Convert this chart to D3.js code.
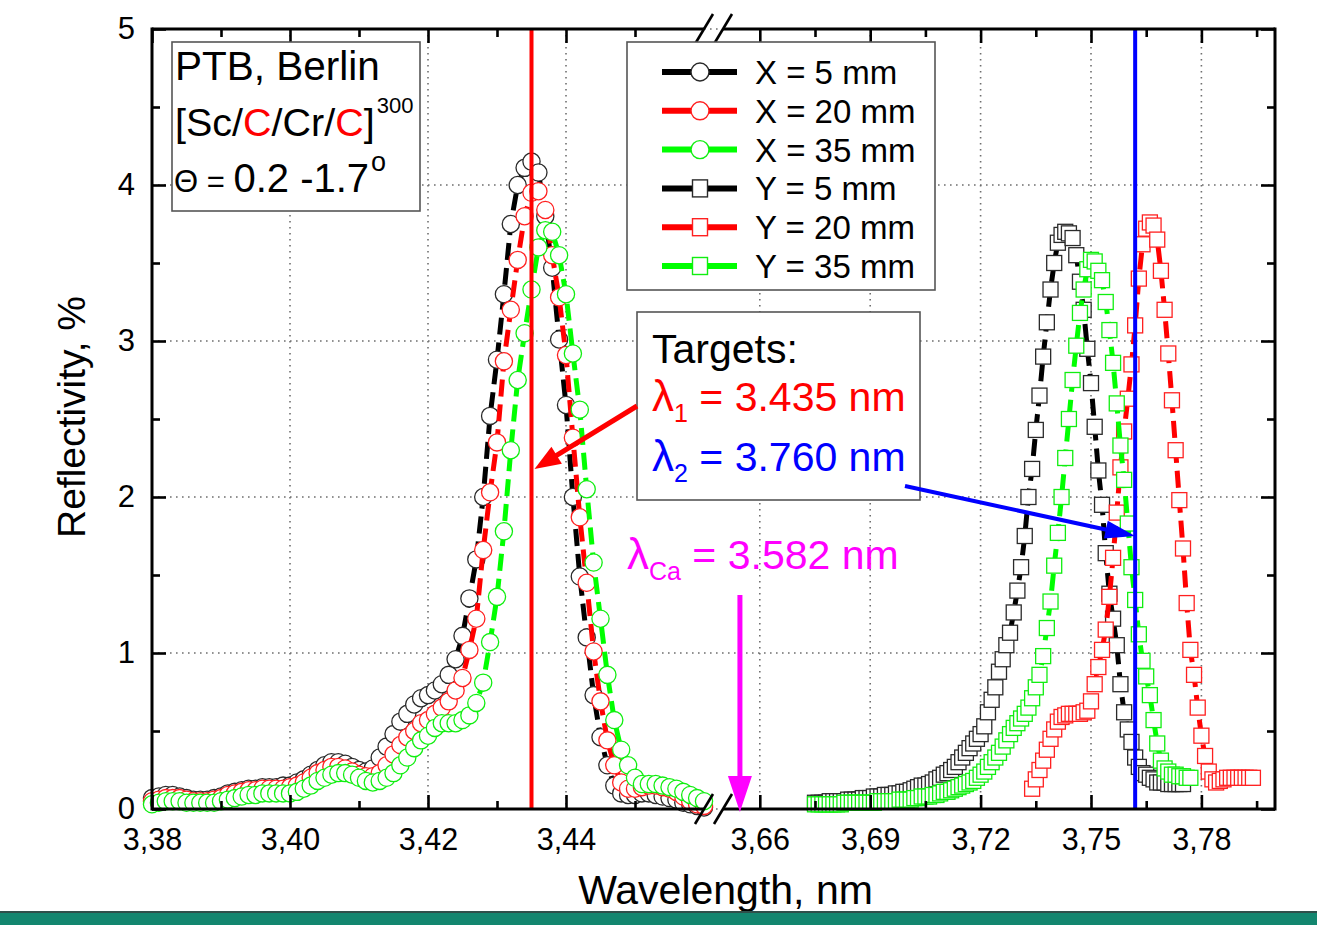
<!DOCTYPE html>
<html><head><meta charset="utf-8">
<script src="https://cdn.jsdelivr.net/npm/d3@7"></script>
<style>
html,body{margin:0;padding:0;background:#fff;}
svg{display:block;}
</style></head><body>
<svg id="chart" width="1317" height="925"></svg>
<script>
// ---------------- DATA ----------------
// X-scan (circles), wavelength grid start / step in nm
const wlStartX = 3.380, wlStep = 0.001;
const reflX5 = [
0.07,0.08,0.09,0.09,0.08,0.07,0.06,0.06,0.06,0.07,
0.08,0.10,0.11,0.12,0.13,0.13,0.14,0.14,0.14,0.15,
0.15,0.17,0.19,0.22,0.25,0.28,0.30,0.30,0.29,0.27,
0.25,0.24,0.26,0.33,0.40,0.48,0.56,0.61,0.67,0.71,
0.73,0.76,0.80,0.86,0.96,1.11,1.35,1.60,2.00,2.52,
2.88,3.30,3.75,4.00,4.11,4.15,4.08,3.80,3.47,3.01,
2.59,2.00,1.49,1.10,0.73,0.46,0.28,0.15,0.10,0.09,
0.09,0.10,0.10,0.09,0.08,0.07,0.06,0.04,0.03,0.02,0.01];
const reflX20 = [
0.05,0.06,0.07,0.07,0.07,0.06,0.05,0.05,0.05,0.06,
0.07,0.09,0.10,0.11,0.12,0.12,0.13,0.13,0.13,0.13,
0.14,0.15,0.17,0.20,0.23,0.25,0.27,0.27,0.26,0.24,
0.22,0.21,0.21,0.23,0.28,0.35,0.41,0.46,0.50,0.55,
0.57,0.61,0.65,0.69,0.76,0.84,1.02,1.22,1.66,2.03,
2.35,2.87,3.20,3.52,3.80,3.95,3.96,3.84,3.55,3.28,
2.91,2.38,1.87,1.45,1.01,0.69,0.44,0.28,0.17,0.13,
0.13,0.14,0.15,0.15,0.14,0.13,0.11,0.08,0.05,0.03,0.02];
const reflX35 = [
0.03,0.04,0.05,0.05,0.05,0.04,0.04,0.04,0.04,0.04,
0.05,0.06,0.07,0.08,0.09,0.09,0.10,0.10,0.10,0.10,
0.10,0.11,0.13,0.15,0.18,0.20,0.22,0.23,0.23,0.22,
0.20,0.18,0.17,0.18,0.20,0.23,0.28,0.33,0.39,0.44,
0.47,0.52,0.55,0.55,0.55,0.57,0.60,0.68,0.81,1.07,
1.36,1.78,2.30,2.75,3.05,3.33,3.60,3.71,3.70,3.55,
3.30,2.92,2.56,2.05,1.58,1.22,0.86,0.57,0.38,0.28,
0.20,0.16,0.16,0.16,0.15,0.14,0.13,0.11,0.09,0.07,0.05];

// Y-scan (squares)
const wlStartY5 = 3.675, wlStartY20 = 3.734, wlStartY35 = 3.675;
const reflY5 = [
0.04,0.04,0.04,0.04,0.05,0.05,0.05,0.05,0.05,0.06,
0.06,0.06,0.06,0.07,0.07,0.07,0.08,0.08,0.08,0.09,
0.09,0.09,0.10,0.10,0.11,0.11,0.12,0.13,0.14,0.15,
0.15,0.16,0.17,0.19,0.20,0.22,0.23,0.25,0.27,0.30,
0.33,0.36,0.39,0.42,0.45,0.48,0.53,0.62,0.70,0.78,
0.88,0.96,1.05,1.13,1.26,1.40,1.55,1.75,2.00,2.18,
2.43,2.65,2.90,3.12,3.33,3.50,3.63,3.68,3.70,3.69,
3.66,3.55,3.38,3.20,2.95,2.73,2.45,2.17,1.95,1.64,
1.38,1.22,1.05,0.80,0.62,0.51,0.43,0.33,0.27,0.23,
0.22,0.20,0.19,0.17,0.17,0.17,0.16,0.16,0.16,0.16,0.16];
const reflY20 = [
0.13,0.19,0.25,0.31,0.38,0.45,0.51,0.56,0.59,0.60,
0.61,0.61,0.61,0.61,0.62,0.63,0.69,0.80,0.91,1.02,
1.15,1.36,1.61,1.90,2.19,2.42,2.63,2.85,3.10,3.40,
3.62,3.72,3.76,3.74,3.65,3.45,3.20,2.92,2.62,2.30,
1.98,1.67,1.32,1.02,0.86,0.65,0.47,0.34,0.24,0.19,
0.17,0.18,0.19,0.20,0.20,0.20,0.20,0.20,0.20,0.20,0.20];
const reflY35 = [
0.03,0.03,0.03,0.03,0.03,0.03,0.03,0.03,0.04,0.04,
0.04,0.04,0.04,0.04,0.04,0.04,0.04,0.05,0.05,0.05,
0.05,0.05,0.05,0.06,0.06,0.06,0.06,0.07,0.07,0.08,
0.08,0.08,0.09,0.09,0.10,0.11,0.11,0.12,0.13,0.14,
0.15,0.16,0.17,0.18,0.20,0.22,0.24,0.27,0.30,0.33,
0.36,0.40,0.44,0.48,0.52,0.55,0.58,0.61,0.65,0.71,
0.78,0.86,0.98,1.16,1.33,1.56,1.77,2.00,2.25,2.50,
2.75,2.97,3.18,3.33,3.46,3.52,3.51,3.45,3.39,3.25,
3.07,2.86,2.60,2.33,2.11,1.83,1.55,1.34,1.12,0.95,
0.85,0.73,0.57,0.42,0.31,0.26,0.24,0.22,0.22,0.21,0.21,0.20,0.20];

const seriesLabels = ["X = 5 mm","X = 20 mm","X = 35 mm","Y = 5 mm","Y = 20 mm","Y = 35 mm"];
const seriesColors = ["#000000","#ff0000","#00ff00","#000000","#ff0000","#00ff00"];
const markerStroke = ["#2a2a2a","#ff2020","#10ee10","#2a2a2a","#ff2020","#10ee10"];

const yTicks = [0,1,2,3,4,5];
const yMinor = [0.5,1.5,2.5,3.5,4.5];
const xTicksLeft = [3.38,3.40,3.42,3.44];
const xMinorLeft = [3.39,3.41,3.43,3.45];
const xTicksRight = [3.66,3.69,3.72,3.75,3.78];
const xMinorRight = [3.675,3.705,3.735,3.765,3.795];

const lambda1 = 3.435, lambda2 = 3.760, lambdaCa = 3.582;
const lambda2Drawn = 3.762;   // position where the blue marker line sits in the figure
const lambdaCaDrawn = 3.6546; // arrow placed just right of the axis break

// ---------------- SETUP ----------------
const FONT = '"Liberation Sans", Arial, Helvetica, sans-serif';
const svg = d3.select("#chart").style("font-family", FONT);
svg.append("rect").attr("width",1317).attr("height",925).attr("fill","#fff");

const y = d3.scaleLinear().domain([0,5]).range([809,29]);
const xL = d3.scaleLinear().domain([3.38,3.46]).range([152,704]);
const xR = d3.scaleLinear().domain([3.65,3.80]).range([723,1275]);
const X0 = 152, X1 = 1275, Y0 = 809, Y1 = 29;

// ---------------- GRID ----------------
const grid = svg.append("g").attr("stroke","#6f6f6f").attr("stroke-width",1.6)
  .attr("stroke-dasharray","1.6,4.4").attr("fill","none");
yTicks.forEach(t => grid.append("line").attr("x1",X0).attr("x2",X1).attr("y1",y(t)).attr("y2",y(t)));
xTicksLeft.filter(t=>t>3.38).forEach(t => grid.append("line").attr("x1",xL(t)).attr("x2",xL(t)).attr("y1",Y1).attr("y2",Y0));
xTicksRight.forEach(t => grid.append("line").attr("x1",xR(t)).attr("x2",xR(t)).attr("y1",Y1).attr("y2",Y0));

// ---------------- SERIES ----------------
function mk(values, start) {
  return values.map((v,i)=>({wl: start + i*wlStep, v: v}));
}
const series = [
  {pts: mk(reflX5, wlStartX), sc: xL, shape:"circle"},
  {pts: mk(reflX20, wlStartX), sc: xL, shape:"circle"},
  {pts: mk(reflX35, wlStartX), sc: xL, shape:"circle"},
  {pts: mk(reflY5, wlStartY5), sc: xR, shape:"square"},
  {pts: mk(reflY20, wlStartY20), sc: xR, shape:"square"},
  {pts: mk(reflY35, wlStartY35), sc: xR, shape:"square"}
];
series.forEach((s,k)=>{
  const g = svg.append("g");
  const line = d3.line().x(d=>s.sc(d.wl)).y(d=>y(d.v));
  g.append("path").attr("d",line(s.pts)).attr("fill","none")
    .attr("stroke",seriesColors[k]).attr("stroke-width",5).attr("stroke-dasharray","17,8");
  if (s.shape==="circle") {
    g.selectAll("circle").data(s.pts).join("circle")
      .attr("cx",d=>s.sc(d.wl)).attr("cy",d=>y(d.v)).attr("r",8.6)
      .attr("fill","#fff").attr("stroke",markerStroke[k]).attr("stroke-width",1.3);
  } else {
    g.selectAll("rect").data(s.pts).join("rect")
      .attr("x",d=>s.sc(d.wl)-7.5).attr("y",d=>y(d.v)-7.5).attr("width",15).attr("height",15)
      .attr("fill","#fff").attr("stroke",markerStroke[k]).attr("stroke-width",1.3);
  }
});

// ---------------- TARGET LINES ----------------
svg.append("line").attr("x1",xL(lambda1)).attr("x2",xL(lambda1)).attr("y1",Y1).attr("y2",Y0)
  .attr("stroke","#ff0000").attr("stroke-width",4);
svg.append("line").attr("x1",xR(lambda2Drawn)).attr("x2",xR(lambda2Drawn)).attr("y1",Y1).attr("y2",Y0)
  .attr("stroke","#0000ff").attr("stroke-width",4);

// ---------------- AXES ----------------
function styleAxis(g){ g.select(".domain").remove(); g.selectAll("line").attr("stroke","#000").attr("stroke-width",2.6);
  g.selectAll("text").attr("font-family",FONT).attr("fill","#000"); }
const fmtX = v => d3.format(".2f")(v).replace(".",",");
svg.append("g").attr("transform",`translate(0,${Y0})`)
  .call(d3.axisBottom(xL).tickValues(xTicksLeft).tickSizeInner(-14).tickSizeOuter(0).tickPadding(19).tickFormat(fmtX))
  .call(styleAxis).selectAll("text").attr("font-size",30.5);
svg.append("g").attr("transform",`translate(0,${Y0})`)
  .call(d3.axisBottom(xR).tickValues(xTicksRight).tickSizeInner(-14).tickSizeOuter(0).tickPadding(19).tickFormat(fmtX))
  .call(styleAxis).selectAll("text").attr("font-size",30.5);
svg.append("g").attr("transform",`translate(0,${Y0})`)
  .call(d3.axisBottom(xL).tickValues(xMinorLeft).tickSizeInner(-8).tickSizeOuter(0).tickFormat("")).call(styleAxis);
svg.append("g").attr("transform",`translate(0,${Y0})`)
  .call(d3.axisBottom(xR).tickValues(xMinorRight).tickSizeInner(-8).tickSizeOuter(0).tickFormat("")).call(styleAxis);
[[xL,xTicksLeft,14],[xR,xTicksRight,14],[xL,xMinorLeft,8],[xR,xMinorRight,8]].forEach(([sc,tv,len])=>{
  svg.append("g").attr("transform",`translate(0,${Y1})`)
    .call(d3.axisTop(sc).tickValues(tv).tickSizeInner(-len).tickSizeOuter(0).tickFormat("")).call(styleAxis);
});
svg.append("g").attr("transform",`translate(${X0},0)`)
  .call(d3.axisLeft(y).tickValues(yTicks).tickSizeInner(-14).tickSizeOuter(0).tickPadding(17).tickFormat(d3.format("d")))
  .call(styleAxis).selectAll("text").attr("font-size",31);
svg.append("g").attr("transform",`translate(${X0},0)`)
  .call(d3.axisLeft(y).tickValues(yMinor).tickSizeInner(-8).tickSizeOuter(0).tickFormat("")).call(styleAxis);
svg.append("g").attr("transform",`translate(${X1},0)`)
  .call(d3.axisRight(y).tickValues(yTicks).tickSizeInner(-14).tickSizeOuter(0).tickFormat("")).call(styleAxis);
svg.append("g").attr("transform",`translate(${X1},0)`)
  .call(d3.axisRight(y).tickValues(yMinor).tickSizeInner(-8).tickSizeOuter(0).tickFormat("")).call(styleAxis);

// frame with break
const frame = svg.append("g").attr("stroke","#000").attr("stroke-width",3).attr("fill","none");
const breakL = xL.range()[1], breakR = xR.range()[0];
frame.append("line").attr("x1",X0).attr("x2",X0).attr("y1",Y1-1.5).attr("y2",Y0+1.5);
frame.append("line").attr("x1",X1).attr("x2",X1).attr("y1",Y1-1.5).attr("y2",Y0+1.5);
[Y0,Y1].forEach(yy=>{
  frame.append("line").attr("x1",X0).attr("x2",breakL).attr("y1",yy).attr("y2",yy);
  frame.append("line").attr("x1",breakR).attr("x2",X1).attr("y1",yy).attr("y2",yy);
  [breakL, breakR].forEach(bx=>{
    frame.append("line").attr("x1",bx-9).attr("y1",yy+15).attr("x2",bx+9).attr("y2",yy-15).attr("stroke-width",2.6);
  });
});

// ---------------- AXIS TITLES ----------------
svg.append("text").attr("x",(X0+X1)/2+12).attr("y",904).attr("text-anchor","middle")
  .attr("font-size",41).text("Wavelength, nm");
svg.append("text").attr("transform","translate(85,417) rotate(-90)").attr("text-anchor","middle")
  .attr("font-size",39).text("Reflectivity, %");

// ---------------- INFO BOX ----------------
const boxStroke = "#555";
svg.append("rect").attr("x",172).attr("y",42).attr("width",248).attr("height",169)
  .attr("fill","#fff").attr("stroke",boxStroke).attr("stroke-width",1.6);
svg.append("text").attr("x",175).attr("y",80).attr("font-size",40.5).text("PTB, Berlin");
const t2 = svg.append("text").attr("x",175).attr("y",136).attr("font-size",39.5);
t2.append("tspan").text("[Sc/");
t2.append("tspan").attr("fill","#ff0000").text("C");
t2.append("tspan").text("/Cr/");
t2.append("tspan").attr("fill","#ff0000").text("C");
t2.append("tspan").text("]");
t2.append("tspan").attr("font-size",22).attr("dy",-23).attr("dx",2).text("300");
const t3 = svg.append("text").attr("x",174).attr("y",192).attr("font-size",40);
t3.append("tspan").attr("font-size",31).text("Θ = ");
t3.append("tspan").text("0.2 -1.7");
t3.append("tspan").attr("font-size",27).attr("dy",-21).attr("dx",2).text("o");

// ---------------- LEGEND ----------------
svg.append("rect").attr("x",627).attr("y",42).attr("width",308).attr("height",248)
  .attr("fill","#fff").attr("stroke",boxStroke).attr("stroke-width",1.6);
seriesLabels.forEach((lab,k)=>{
  const cy = 72 + k*38.8;
  svg.append("line").attr("x1",662).attr("x2",737).attr("y1",cy).attr("y2",cy)
    .attr("stroke",seriesColors[k]).attr("stroke-width",6);
  if (k<3) svg.append("circle").attr("cx",700).attr("cy",cy).attr("r",9)
      .attr("fill","#fff").attr("stroke",markerStroke[k]).attr("stroke-width",1.4);
  else svg.append("rect").attr("x",692.5).attr("y",cy-8.5).attr("width",15).attr("height",17)
      .attr("fill","#fff").attr("stroke",markerStroke[k]).attr("stroke-width",1.4);
  svg.append("text").attr("x",755).attr("y",cy+12).attr("font-size",33).text(lab);
});

// ---------------- TARGETS BOX ----------------
svg.append("rect").attr("x",637).attr("y",312).attr("width",283).attr("height",188)
  .attr("fill","#fff").attr("stroke",boxStroke).attr("stroke-width",1.6);
svg.append("text").attr("x",652).attr("y",363).attr("font-size",41).text("Targets:");
function lamText(x, yy, sub, val, color){
  const t = svg.append("text").attr("x",x).attr("y",yy).attr("font-size",41).attr("fill",color);
  t.append("tspan").attr("font-size",44).text("λ");
  t.append("tspan").attr("font-size",25).attr("dy",11).text(sub);
  t.append("tspan").attr("dy",-11).text(" = " + d3.format(".3f")(val) + " nm");
}
lamText(652, 411, "1", lambda1, "#ff0000");
lamText(652, 471, "2", lambda2, "#0000ff");
lamText(627, 569, "Ca", lambdaCa, "#ff00ff");

// ---------------- ARROWS ----------------
function arrow(x1,y1,x2,y2,color,hl,hw,w){
  const a = Math.atan2(y2-y1,x2-x1), c=Math.cos(a), s=Math.sin(a);
  const bx = x2 - hl*c, by = y2 - hl*s;
  svg.append("line").attr("x1",x1).attr("y1",y1).attr("x2",bx+2*c).attr("y2",by+2*s)
    .attr("stroke",color).attr("stroke-width",w);
  svg.append("polygon").attr("fill",color)
    .attr("points",[[x2,y2],[bx - hw/2*s, by + hw/2*c],[bx + hw/2*s, by - hw/2*c]].map(p=>p.join(",")).join(" "));
}
arrow(637, 406, xL(lambda1)+3, y(2.18), "#ff0000", 26, 20, 5);
arrow(905, 486, xR(lambda2Drawn), y(1.75), "#0000ff", 30, 18, 4);
arrow(xR(lambdaCaDrawn), 595, xR(lambdaCaDrawn), Y0+3, "#ff00ff", 36, 24, 5);

// ---------------- BOTTOM BAR ----------------
svg.append("rect").attr("x",0).attr("y",912).attr("width",1317).attr("height",13).attr("fill","#13866f");
svg.append("line").attr("x1",0).attr("x2",1317).attr("y1",912).attr("y2",912).attr("stroke","#2f4f4a").attr("stroke-width",2);
</script>
</body></html>
